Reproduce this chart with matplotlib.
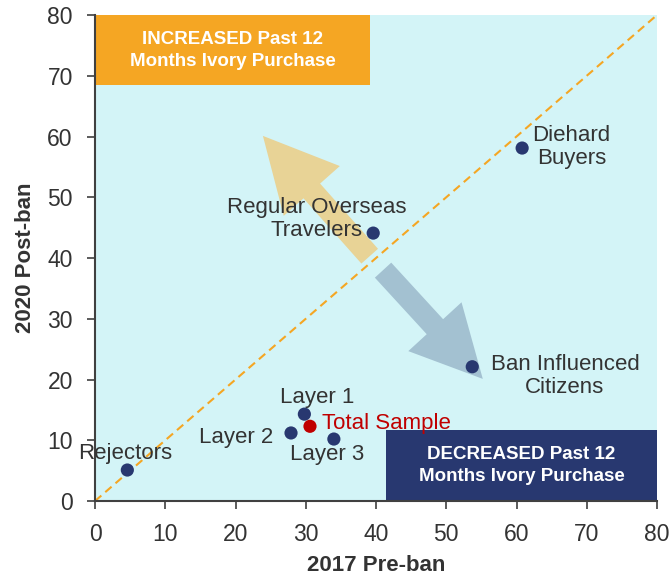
import matplotlib
matplotlib.use("Agg")
import matplotlib.pyplot as plt
from matplotlib.patches import Rectangle

# Data
labels = ["Rejectors", "Layer 1", "Layer 2", "Layer 3", "Regular Overseas\nTravelers",
          "Diehard\nBuyers", "Ban Influenced\nCitizens"]
pre_2017 = [4.6, 29.8, 27.9, 34.0, 39.6, 60.8, 53.7]
post_2020 = [5.1, 14.3, 11.2, 10.2, 44.1, 58.1, 22.1]
total_label = "Total Sample"
total_pre = 30.6
total_post = 12.3
x_ticks = [0, 10, 20, 30, 40, 50, 60, 70, 80]
y_ticks = [0, 10, 20, 30, 40, 50, 60, 70, 80]

# label positions (text anchor) and alignment
label_pos = [(4.3, 7.9, "center"), (31.6, 17.1, "center"), (25.3, 10.4, "right"),
             (33.0, 7.6, "center"), (31.5, 46.4, "center"), (67.8, 58.3, "center"),
             (66.9, 20.6, "center")]

plt.rcParams['font.family'] = ['Liberation Sans', 'DejaVu Sans']

fig = plt.figure(figsize=(6.72, 5.77), dpi=100)
ax = fig.add_axes([0.1414, 0.1317, 0.8363, 0.8423])
ax.set_xlim(0, 80)
ax.set_ylim(0, 80)
ax.set_facecolor("#D3F4F7")

navy = "#283870"
orange = "#F5A623"

# boxes
ax.add_patch(Rectangle((0, 68.5), 39.2, 11.5, facecolor=orange, edgecolor="none", zorder=2))
ax.add_patch(Rectangle((41.4, 0), 38.6, 11.7, facecolor=navy, edgecolor="none", zorder=2))
ax.text(19.6, 74.2, "INCREASED Past 12\nMonths Ivory Purchase", color="white", ha="center",
        va="center", fontsize=13.5, fontweight="bold", linespacing=1.35, zorder=3)
ax.text(60.7, 5.85, "DECREASED Past 12\nMonths Ivory Purchase", color="white", ha="center",
        va="center", fontsize=13.5, fontweight="bold", linespacing=1.35, zorder=3)

# diagonal
ax.plot([0, 80], [0, 80], color=orange, linestyle=(0, (4, 2.5)), linewidth=1.5, zorder=2, clip_on=False)

# arrows
ax.annotate("", xy=(23.9, 60.1), xytext=(39.1, 40.3),
            arrowprops=dict(arrowstyle="simple,head_length=0.53,head_width=0.54,tail_width=0.16",
                            mutation_scale=100, facecolor="#E8D396", edgecolor="none",
                            shrinkA=0, shrinkB=0), zorder=2)
ax.annotate("", xy=(55.2, 20.1), xytext=(41.0, 38.0),
            arrowprops=dict(arrowstyle="simple,head_length=0.51,head_width=0.52,tail_width=0.16",
                            mutation_scale=100, facecolor="#A3C1D1", edgecolor="none",
                            shrinkA=0, shrinkB=0), zorder=2)

# points
ax.scatter(pre_2017, post_2020, s=90, color=navy, zorder=4, edgecolor="none")
ax.scatter([total_pre], [total_post], s=90, color="#C00000", zorder=4, edgecolor="none")

for lab, (tx, ty, ha) in zip(labels, label_pos):
    ax.text(tx, ty, lab, ha=ha, va="center", fontsize=16, color="#333333",
            linespacing=1.1, zorder=5)
ax.text(32.3, 12.8, total_label, ha="left", va="center", fontsize=16, color="#C00000", zorder=5)

ax.set_xticks(x_ticks)
ax.set_yticks(y_ticks)
ax.tick_params(axis="both", labelsize=16.5, labelcolor="#333333", color="#404040",
               length=6, width=1.2, direction="out")
ax.tick_params(axis="y", pad=10)
ax.tick_params(axis="x", pad=10)
for s in ["top", "right"]:
    ax.spines[s].set_visible(False)
for s in ["left", "bottom"]:
    ax.spines[s].set_color("#404040")
    ax.spines[s].set_linewidth(1.5)
ax.set_xlabel("2017 Pre-ban", fontsize=16, fontweight="bold", color="#333333", labelpad=6)
ax.set_ylabel("2020 Post-ban", fontsize=16, fontweight="bold", color="#333333", labelpad=8)

fig.savefig("out.png", dpi=100)
